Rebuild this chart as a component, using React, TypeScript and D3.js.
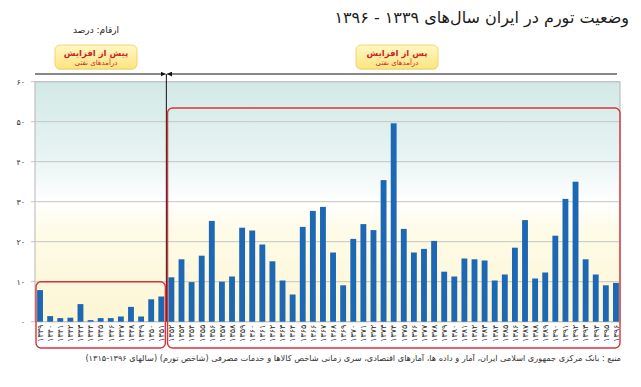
import * as d3 from "d3";

// years (Persian calendar) and annual inflation, %
const years: number[] = [
  1339, 1340, 1341, 1342, 1343, 1344, 1345, 1346, 1347, 1348, 1349, 1350, 1351,
  1352, 1353, 1354, 1355, 1356, 1357, 1358, 1359, 1360, 1361, 1362, 1363, 1364,
  1365, 1366, 1367, 1368, 1369, 1370, 1371, 1372, 1373, 1374, 1375, 1376, 1377,
  1378, 1379, 1380, 1381, 1382, 1383, 1384, 1385, 1386, 1387, 1388, 1389, 1390,
  1391, 1392, 1393, 1394, 1395, 1396,
];
const inflation: number[] = [
  7.9, 1.4, 0.9, 1.0, 4.4, 0.4, 0.9, 0.9, 1.3, 3.7, 1.3, 5.6, 6.3,
  11.1, 15.6, 9.9, 16.5, 25.2, 10.0, 11.3, 23.5, 22.8, 19.3, 15.1, 10.3, 6.8,
  23.7, 27.7, 28.7, 17.3, 9.1, 20.7, 24.4, 22.9, 35.4, 49.6, 23.2, 17.3, 18.2,
  20.2, 12.5, 11.3, 15.8, 15.6, 15.3, 10.3, 11.8, 18.5, 25.4, 10.8, 12.3, 21.5,
  30.7, 35.0, 15.6, 11.8, 9.1, 9.7,
];
const yTicks: number[] = [0, 10, 20, 30, 40, 50, 60];
const lastBefore = 1351; // last year before the oil-revenue rise

const title = "وضعیت تورم در ایران سال‌های ۱۳۳۹ - ۱۳۹۶";
const unitLabel = "ارقام: درصد";
const beforeLabel = ["پیش از افزایش", "درآمدهای نفتی"];
const afterLabel = ["پس از افزایش", "درآمدهای نفتی"];
const source =
  "منبع : بانک مرکزی جمهوری اسلامی ایران، آمار و داده ها، آمارهای اقتصادی، سری زمانی شاخص کالاها و خدمات مصرفی (شاخص تورم) (سالهای ۱۳۹۶-۱۳۱۵)";

const fa = (n: number | string) =>
  String(n).replace(/[0-9]/g, (c) => "۰۱۲۳۴۵۶۷۸۹"[+c]);

const W = 641;
const H = 387;
const plot = { left: 35, right: 620, top: 81.7, bottom: 321.7 };
const font = "'DejaVu Sans', sans-serif";

export default function App() {
  const x = d3
    .scaleBand<number>()
    .domain(years)
    .range([35, 621])
    .paddingInner(0.42)
    .paddingOuter(0.21);

  const y = d3.scaleLinear().domain([0, 60]).range([plot.bottom, plot.top]);

  const splitX =
    ((x(lastBefore) ?? 0) + x.bandwidth() + (x(lastBefore + 1) ?? 0)) / 2;
  const lineY = 74;

  const box = (cx: number, lines: string[]) => (
    <g transform={`translate(${cx},45)`}>
      <rect x={-41} y={1} width={82} height={24} rx={5} fill="#d8c66a" opacity={0.35} />
      <rect x={-41} y={0} width={82} height={24} rx={5} fill="url(#boxFill)" stroke="#e9cf55" strokeWidth={0.8} />
      <text y={10.5} textAnchor="middle" fontSize={8.5} fontWeight="bold" fill="#c8262c" fontFamily={font}>
        {lines[0]}
      </text>
      <text y={20} textAnchor="middle" fontSize={7} fill="#c8262c" fontFamily={font}>
        {lines[1]}
      </text>
    </g>
  );

  return (
    <svg width={W} height={H} style={{ position: "absolute", left: 0, top: 0, background: "#fff" }}>
      <defs>
        <linearGradient id="bg" x1="0" y1="0" x2="0" y2="1">
          <stop offset="0" stopColor="#d3e9e6" />
          <stop offset="0.3" stopColor="#e6f3f2" />
          <stop offset="0.5" stopColor="#ffffff" />
          <stop offset="0.62" stopColor="#fefbe8" />
          <stop offset="1" stopColor="#fcf6d4" />
        </linearGradient>
        <linearGradient id="boxFill" x1="0" y1="0" x2="0" y2="1">
          <stop offset="0" stopColor="#fff8c4" />
          <stop offset="1" stopColor="#fde47e" />
        </linearGradient>
        <marker id="arrR" viewBox="0 0 6 6" refX="6" refY="3" markerWidth="5" markerHeight="5" orient="auto">
          <path d="M0,0L6,3L0,6Z" fill="#111" />
        </marker>
      </defs>

      <text x={629} y={23} textAnchor="end" fontSize={16} fontFamily={font} fill="#1a1a1a">
        {title}
      </text>
      <text x={96} y={33} textAnchor="middle" fontSize={9} fontFamily={font} fill="#222">
        {unitLabel}
      </text>
      {box(96, beforeLabel)}
      {box(397, afterLabel)}

      {/* period line with arrows */}
      <line x1={plot.left} x2={splitX - 0.8} y1={lineY} y2={lineY} stroke="#111" strokeWidth={1} markerEnd="url(#arrR)" />
      <line x1={617} x2={splitX + 0.8} y1={lineY} y2={lineY} stroke="#111" strokeWidth={1} markerEnd="url(#arrR)" />

      {/* plot background */}
      <rect x={plot.left} y={plot.top} width={plot.right - plot.left} height={plot.bottom - plot.top} fill="url(#bg)" stroke="#b5b5b5" strokeWidth={1} />

      {yTicks.map((t) => (
        <g key={t}>
          <line x1={31} x2={plot.right} y1={y(t)} y2={y(t)} stroke="#c4c4c4" strokeWidth={1} />
          <text x={25} y={y(t)} dy="0.35em" textAnchor="end" fontSize={8} fontFamily={font} fill="#333">
            {fa(t)}
          </text>
        </g>
      ))}

      {years.map((yr, i) => (
        <rect
          key={yr}
          x={x(yr)}
          y={y(inflation[i])}
          width={x.bandwidth()}
          height={y(0) - y(inflation[i])}
          fill="#1d68b4"
        />
      ))}

      {years.map((yr) => (
        <text
          key={yr}
          transform={`translate(${(x(yr) ?? 0) + x.bandwidth() / 2},${plot.bottom + 3}) rotate(-90)`}
          dy="0.35em"
          textAnchor="end"
          fontSize={8}
          fontFamily={font}
          fill="#2a2a2a"
        >
          {fa(yr)}
        </text>
      ))}

      {/* divider */}
      <line x1={splitX} x2={splitX} y1={lineY} y2={plot.bottom} stroke="#111" strokeWidth={1} />

      {/* period frames */}
      <rect x={36} y={y(10)} width={splitX - 1 - 36} height={348 - y(10)} rx={5} fill="none" stroke="#d8343c" strokeWidth={1.4} />
      <rect x={splitX + 1.2} y={108} width={620 - splitX - 1.2} height={348 - 108} rx={5} fill="none" stroke="#d8343c" strokeWidth={1.4} />

      <text x={621} y={361} textAnchor="end" fontSize={8.2} fontFamily={font} fill="#333">
        {source}
      </text>
    </svg>
  );
}
